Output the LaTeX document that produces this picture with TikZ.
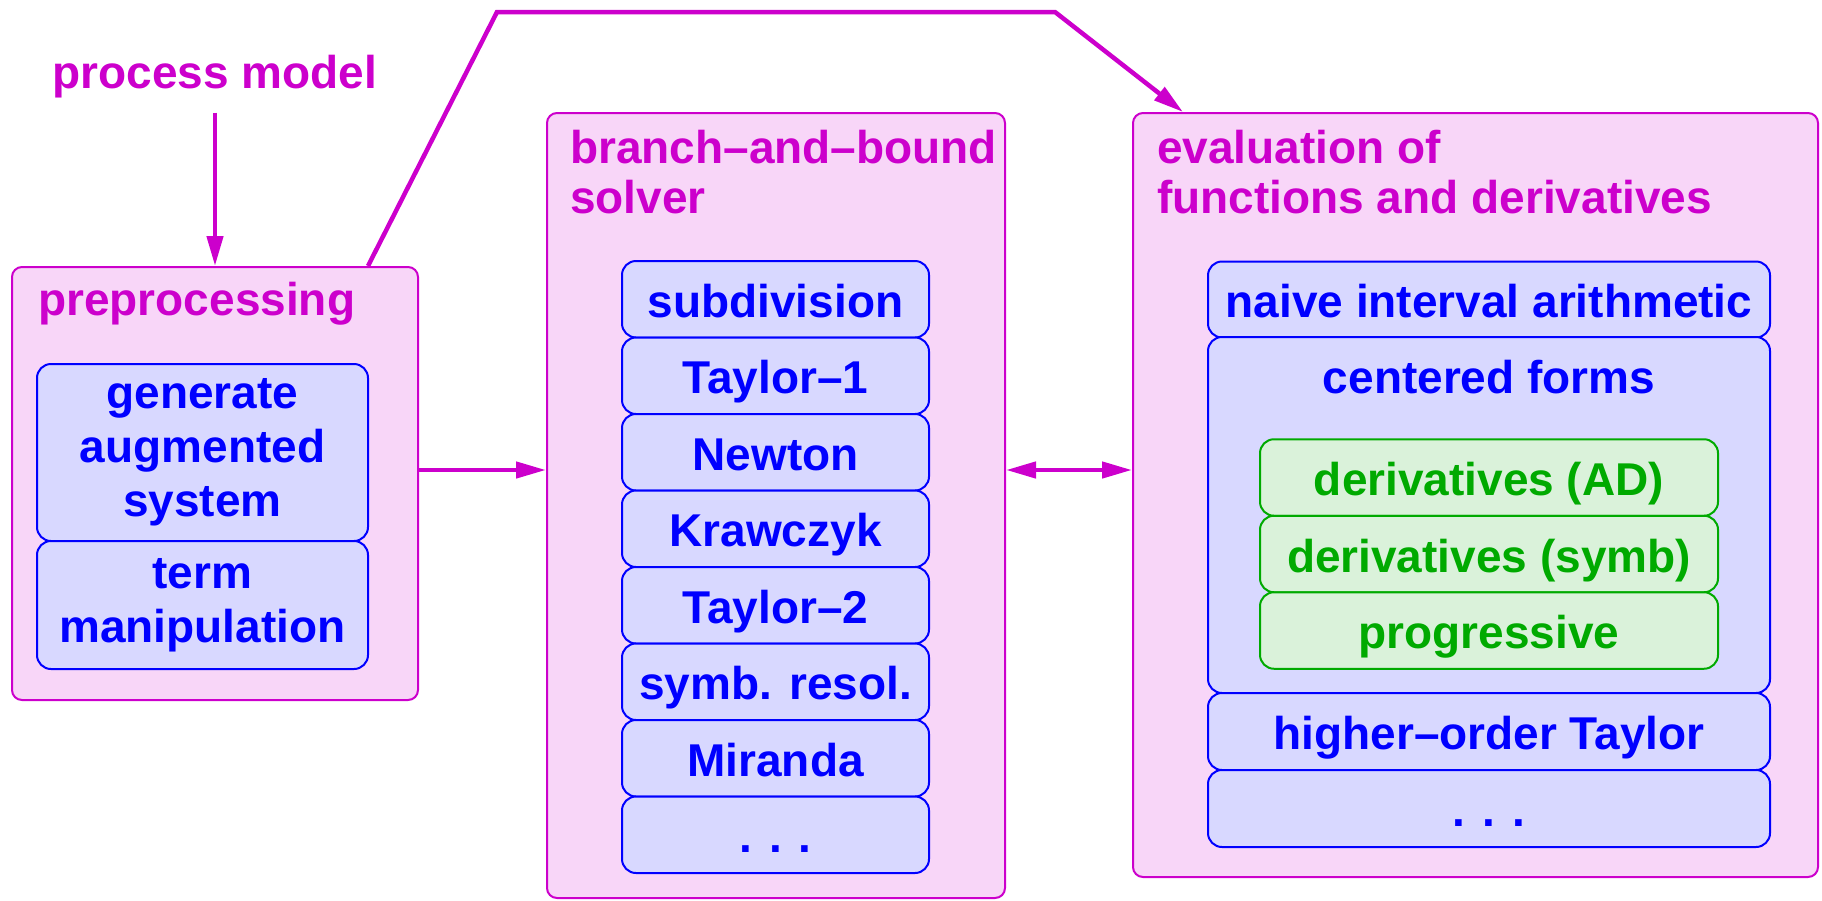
\documentclass[tikz,border=0pt]{standalone}
\usepackage{fontspec}
\setmainfont{Liberation Sans}
\usetikzlibrary{arrows.meta}

\definecolor{mag}{RGB}{204,0,204}
\definecolor{pinkfill}{RGB}{248,214,248}
\definecolor{bluefill}{RGB}{216,216,255}
\definecolor{greenfill}{RGB}{218,242,218}
\definecolor{greenink}{RGB}{0,170,0}

\tikzset{flowtip/.tip={Triangle[length=30pt,width=16pt]}}

\begin{document}
\begin{tikzpicture}[x=1pt,y=-1pt,
  font=\fontsize{46}{50}\selectfont\bfseries,
  group/.style={draw=mag, fill=pinkfill, line width=2pt, rounded corners=10pt, inner sep=0pt},
  item/.style={draw=blue, fill=bluefill, text=blue, line width=2pt, rounded corners=14pt,
    inner sep=0pt, align=center, font=\fontsize{46}{54}\selectfont\bfseries},
  subitem/.style={draw=greenink, fill=greenfill, text=greenink, line width=2pt, rounded corners=14pt,
    inner sep=0pt, align=center},
  oneline/.style={text height=36pt, text depth=0pt},
  title/.style={text=mag, anchor=base west, inner sep=0pt, align=left},
  flow/.style={draw=mag, line width=4.5pt, -flowtip},
]
\useasboundingbox (0,0) rectangle (1822,900);

% input
\node[text=mag, anchor=base, inner sep=0pt] (pm) at (215,88) {process model};

% preprocessing
\node[group, minimum width=406pt, minimum height=433pt] (pre) at (215,483.5) {};
\node[title] (pret) at (38,315) {preprocessing};
\node[item, minimum width=331pt, minimum height=177pt] (gen) at (202.5,452.5) {generate\\augmented\\system};
\node[item, minimum width=331pt, minimum height=128pt] (term) at (202.5,605) {term\\manipulation};

% branch-and-bound solver (two-line titles: base anchor sits on the last line)
\node[group, minimum width=458pt, minimum height=785pt] (bb) at (776,505.5) {};
\node[title] (bbt) at (570,213) {branch–and–bound\\solver};
\foreach \t [count=\i from 0] in {subdivision, Taylor–1, Newton, Krawczyk, Taylor–2, symb. resol., Miranda, . . .}
  \node[item, oneline, minimum width=307pt, minimum height=76.5pt] (bb\i) at (775.5,299.25+76.5*\i) {\t};

% evaluation of functions and derivatives
\node[group, minimum width=685pt, minimum height=764pt] (ev) at (1475.5,495) {};
\node[title] (evt) at (1157,213) {evaluation of\\functions and derivatives};
\node[item, oneline, minimum width=562pt, minimum height=76pt] (naive) at (1489,299.5) {naive interval arithmetic};
\node[item, minimum width=562pt, minimum height=356pt] (cf) at (1489,515) {};
\node[text=blue, anchor=base, inner sep=0pt] (cft) at (1489,393) {centered forms};
\node[subitem, oneline, minimum width=458pt, minimum height=76.5pt] (ad) at (1489,477.5) {derivatives (AD)};
\node[subitem, oneline, minimum width=458pt, minimum height=76.5pt] (sy) at (1489,554) {derivatives (symb)};
\node[subitem, oneline, minimum width=458pt, minimum height=76.5pt] (pg) at (1489,630.5) {progressive};
\node[item, oneline, minimum width=562pt, minimum height=77pt] (hot) at (1489,731.5) {higher–order Taylor};
\node[item, oneline, minimum width=562pt, minimum height=77pt] (more) at (1489,808.5) {. . .};

% connectors
\draw[flow, shorten <=15pt] (pm.south) -- (pre.north -| pm.south);
\draw[flow] (368,0 |- pre.north) -- (497,12) -- (1055,12) -- (1183,0 |- ev.north);
\draw[flow] (pre.east |- 0,470) -- (bb.west |- 0,470);
\draw[flow, flowtip-flowtip] (bb.east |- 0,470) -- (ev.west |- 0,470);
\end{tikzpicture}
\end{document}
